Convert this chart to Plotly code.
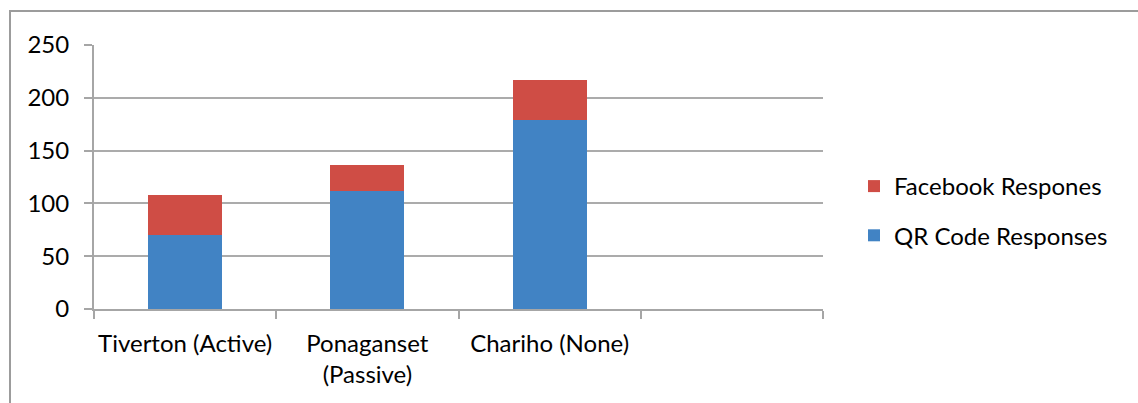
import plotly.graph_objects as go

categories = ["Tiverton (Active)", "Ponaganset<br>(Passive)", "Chariho (None)", " "]
qr_values = [70, 112, 179, None]
fb_values = [38, 24, 38, None]
y_ticks = [0, 50, 100, 150, 200, 250]

W, H = 1138, 403
L, R, T, B = 94, 823, 45, 309
pw, ph = R - L, B - T

def px_x(v):
    return (v - L) / pw

def px_y(v):
    return (B - v) / ph

FONT = "Lato, 'Open Sans', sans-serif"
FS = 24

fig = go.Figure()
fig.add_trace(go.Bar(x=categories, y=qr_values, name="QR Code Responses",
                     legendgroup="qr", legendrank=2,
                     marker=dict(color="#4183c4", line=dict(width=0))))
fig.add_trace(go.Bar(x=categories, y=fb_values, name="Facebook Respones",
                     legendgroup="fb", legendrank=1,
                     marker=dict(color="#cf4d45", line=dict(width=0))))

fig.update_layout(
    width=W, height=H,
    barmode="stack", bargap=0.595,
    paper_bgcolor="white", plot_bgcolor="white",
    margin=dict(l=L, r=W - R, t=T, b=H - B, pad=0, autoexpand=False),
    font=dict(family=FONT, size=FS, color="#000000"),
    showlegend=True,
    legend=dict(x=px_x(854), y=px_y(164), xanchor="left", yanchor="top",
                traceorder="grouped", font=dict(size=FS, family=FONT),
                itemwidth=30, tracegroupgap=15, bgcolor="rgba(0,0,0,0)"),
    xaxis=dict(type="category", showgrid=False, showline=True, linecolor="#a6a6a6",
               linewidth=2, ticks="outside", ticklen=8, tickcolor="#a6a6a6", tickwidth=2,
               tickson="boundaries", tickfont=dict(size=FS, family=FONT),
               tickangle=0, automargin=False,
               ticklabelstandoff=12, range=[-0.5, 3.5]),
    yaxis=dict(range=[0, 250], tickvals=y_ticks, showgrid=True, gridcolor="#ababab",
               gridwidth=2, showline=True, linecolor="#a6a6a6", linewidth=2,
               ticks="outside", ticklen=8, tickcolor="#a6a6a6", tickwidth=2,
               automargin=False,
               tickfont=dict(size=FS, family=FONT), zeroline=False, ticklabelstandoff=10),
    shapes=[dict(type="rect", xref="paper", yref="paper",
                 x0=px_x(10), x1=px_x(1160), y0=px_y(11), y1=px_y(430),
                 line=dict(color="#9c9c9c", width=2), fillcolor="rgba(0,0,0,0)",
                 layer="below")],
)

fig.write_html("out.html")
